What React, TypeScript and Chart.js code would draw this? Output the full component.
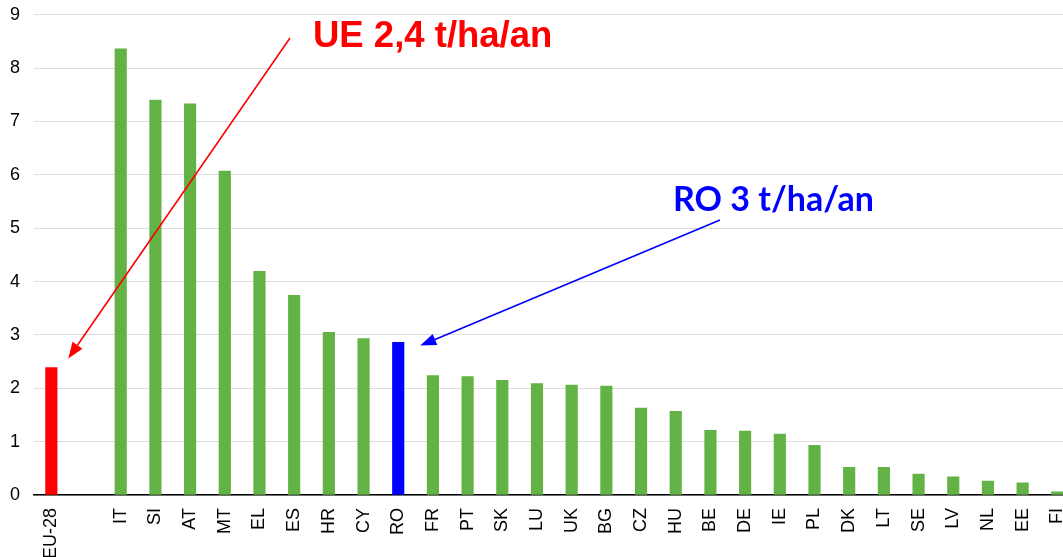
import React, { useEffect, useRef } from "react";
import { Chart, registerables } from "chart.js";

Chart.register(...registerables);

const categories = ["EU-28", "", "IT", "SI", "AT", "MT", "EL", "ES", "HR", "CY", "RO", "FR", "PT", "SK", "LU", "UK", "BG", "CZ", "HU", "BE", "DE", "IE", "PL", "DK", "LT", "SE", "LV", "NL", "EE", "FI"];
const values: (number | null)[] = [2.39, null, 8.36, 7.4, 7.33, 6.07, 4.19, 3.74, 3.05, 2.93, 2.86, 2.24, 2.22, 2.15, 2.09, 2.06, 2.04, 1.63, 1.57, 1.21, 1.2, 1.14, 0.93, 0.52, 0.52, 0.39, 0.34, 0.26, 0.23, 0.06];
const yTicks = [0, 1, 2, 3, 4, 5, 6, 7, 8, 9];
const GREEN = "#62b245";
const RED = "#ff0000";
const BLUE = "#0000ff";
const barColors = categories.map((c) => (c === "EU-28" ? RED : c === "RO" ? BLUE : GREEN));

const SHIFT = 10;

function arrow(ctx: CanvasRenderingContext2D, x1: number, y1: number, x2: number, y2: number, color: string) {
  const ang = Math.atan2(y2 - y1, x2 - x1);
  const len = 16;
  const half = 6;
  const bx = x2 - len * Math.cos(ang);
  const by = y2 - len * Math.sin(ang);
  ctx.save();
  ctx.strokeStyle = color;
  ctx.fillStyle = color;
  ctx.lineWidth = 1.6;
  ctx.beginPath();
  ctx.moveTo(x1, y1);
  ctx.lineTo(bx, by);
  ctx.stroke();
  ctx.beginPath();
  ctx.moveTo(x2, y2);
  ctx.lineTo(bx + half * Math.sin(ang), by - half * Math.cos(ang));
  ctx.lineTo(bx - half * Math.sin(ang), by + half * Math.cos(ang));
  ctx.closePath();
  ctx.fill();
  ctx.restore();
}

const annotationPlugin = {
  id: "annot",
  afterDraw(chart: any) {
    const ctx: CanvasRenderingContext2D = chart.ctx;
    const xs = chart.scales.x;
    const ys = chart.scales.y;
    const euX = xs.getPixelForValue(0);
    const roX = xs.getPixelForValue(10);
    ctx.save();
    ctx.textBaseline = "alphabetic";
    ctx.textAlign = "left";
    ctx.fillStyle = RED;
    ctx.font = "bold 36.5px 'Liberation Sans', Arial, sans-serif";
    ctx.fillText("UE 2,4 t/ha/an", 313, 47 + SHIFT);
    ctx.fillStyle = BLUE;
    ctx.font = "bold 34px Lato, 'Open Sans', sans-serif";
    ctx.fillText("RO 3 t/ha/an", 673, 211 + SHIFT);
    ctx.restore();
    arrow(ctx, 290, 38 + SHIFT, euX + 17, ys.getPixelForValue(2.56), RED);
    arrow(ctx, 720, 220 + SHIFT, roX + 22, ys.getPixelForValue(2.8), BLUE);
  },
};

export default function App() {
  const ref = useRef<HTMLCanvasElement>(null);
  useEffect(() => {
    document.body.style.margin = "0";
    document.body.style.overflow = "hidden";
    const chart = new Chart(ref.current!, {
      type: "bar",
      data: {
        labels: categories,
        datasets: [{ data: values, backgroundColor: barColors, barThickness: 11.5 }],
      },
      options: {
        animation: false,
        responsive: false,
        devicePixelRatio: 1,
        layout: { padding: { top: 0, right: 5, left: 0, bottom: 0 } },
        plugins: { legend: { display: false }, tooltip: { enabled: false } },
        scales: {
          x: {
            grid: { display: false, drawTicks: false },
            border: { display: true, color: "#000", width: 1.5 },
            ticks: {
              autoSkip: false,
              maxRotation: 90,
              minRotation: 90,
              padding: 13,
              color: "#000",
              font: { family: "'Liberation Sans', Arial, sans-serif", size: 18 },
            },
            afterFit(s: any) {
              s.height = 70;
            },
          },
          y: {
            min: 0,
            max: 9,
            afterBuildTicks(s: any) {
              s.ticks = yTicks.map((v) => ({ value: v }));
            },
            grid: { color: "#dcdcdc", lineWidth: 1, drawTicks: false },
            border: { display: false },
            ticks: {
              padding: 14,
              color: "#000",
              font: { family: "'Liberation Sans', Arial, sans-serif", size: 18 },
            },
            afterFit(s: any) {
              s.width = 34;
            },
          },
        },
      },
      plugins: [annotationPlugin],
    });
    return () => chart.destroy();
  }, []);
  return (
    <div style={{ position: "fixed", left: 0, top: 0, width: 1063, height: 557, overflow: "hidden", background: "#fff" }}>
      <canvas
        ref={ref}
        width={1092}
        height={575}
        style={{ width: 1092, height: 575, display: "block", marginTop: -SHIFT }}
      />
    </div>
  );
}
